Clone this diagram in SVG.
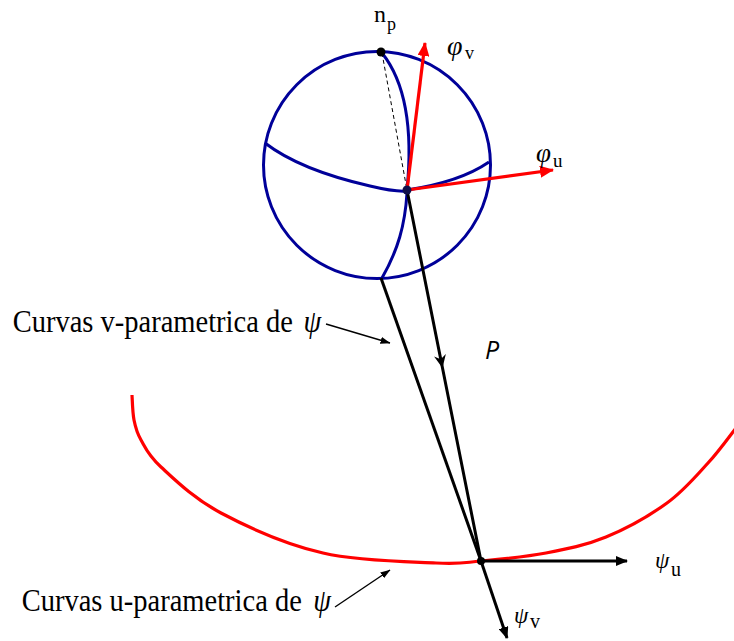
<svg xmlns="http://www.w3.org/2000/svg" width="734" height="641" viewBox="0 0 734 641">
  <style>
    .serif { font-family: "Liberation Serif", "Times New Roman", serif; fill: #000; }
    .it { font-style: italic; }
    .sphere { fill: none; stroke: #000099; stroke-width: 3; }
    .blk { fill: none; stroke: #000; stroke-width: 3; }
    .red { fill: none; stroke: #ff0000; stroke-width: 3.2; }
    .thin { fill: none; stroke: #000; stroke-width: 1.4; }
  </style>
  <defs>
    <marker id="headBlack" viewBox="0 0 12 10" refX="11" refY="5" markerWidth="12" markerHeight="10" markerUnits="userSpaceOnUse" orient="auto">
      <path d="M0,0 L12,5 L0,10 Z" fill="#000"/>
    </marker>
    <marker id="headRed" viewBox="0 0 14 12" refX="13" refY="6" markerWidth="14" markerHeight="12" markerUnits="userSpaceOnUse" orient="auto">
      <path d="M0,0 L14,6 L0,12 Z" fill="#ff0000"/>
    </marker>
    <marker id="headSmall" viewBox="0 0 10 7" refX="9.5" refY="3.5" markerWidth="10" markerHeight="7" markerUnits="userSpaceOnUse" orient="auto">
      <path d="M0,0 L10,3.5 L0,7 Z" fill="#000"/>
    </marker>
    <marker id="headMid" viewBox="0 0 14 12" refX="13" refY="6" markerWidth="14" markerHeight="12" markerUnits="userSpaceOnUse" orient="auto">
      <path d="M0,0 L13,6 L0,12 L4,6 Z" fill="#000"/>
    </marker>
  </defs>

  <!-- surface curve (u-parametric) -->
  <g id="surface-curve">
    <path class="red" d="M132,395 C132.3,399.2 132.5,412.5 134,420 C135.5,427.5 136.5,432.2 141,440 C145.5,447.8 147.7,454.8 161,467 C174.3,479.2 194,498.7 221,513 C248,527.3 287.2,544.7 323,553 C358.8,561.3 409.7,561.7 436,563 C462.3,564.3 462.7,562.7 481,561 C499.3,559.3 525.2,557 546,553 C566.8,549 585.8,545.3 606,537 C626.2,528.7 650,515.3 667,503 C684,490.7 696.5,475.5 708,463 C719.5,450.5 731.3,433.8 736,428"/>
  </g>

  <!-- unit sphere with its coordinate curves -->
  <g id="sphere">
    <circle class="sphere" cx="377" cy="165" r="113.5"/>
    <path class="sphere" d="M382,53 C402,78 414,120 407,190"/>
    <path class="sphere" d="M265,143 Q300,170 370,186 Q395,192 407,191"/>
    <path class="sphere" d="M407,190 Q460,182 489,162"/>
    <path class="sphere" d="M407,193 C405,225 398,250 382,278"/>
  </g>

  <!-- connectors -->
  <g id="connectors">
    <line x1="382" y1="53" x2="407" y2="190" stroke="#000" stroke-width="1" stroke-dasharray="4 3"/>
    <path class="blk" d="M381,278 L481,561"/>
    <path class="blk" d="M407,190 L442.5,368 L481,561" marker-mid="url(#headMid)"/>
    <line class="blk" x1="481" y1="561" x2="507" y2="638" marker-end="url(#headBlack)"/>
    <line class="blk" x1="481" y1="561" x2="627" y2="561" marker-end="url(#headBlack)"/>
    <line class="red" x1="407" y1="190" x2="425" y2="43" marker-end="url(#headRed)"/>
    <line class="red" x1="407" y1="190" x2="553" y2="170" marker-end="url(#headRed)"/>
    <line class="thin" x1="326" y1="324" x2="390" y2="343" marker-end="url(#headSmall)"/>
    <line class="thin" x1="335" y1="607" x2="390" y2="570" marker-end="url(#headSmall)"/>
  </g>

  <!-- points -->
  <g id="pole">
    <circle cx="381" cy="52" r="4.5" fill="#000"/>
    <text class="serif" x="374" y="22" font-size="24">n</text>
    <text class="serif" x="387" y="30" font-size="18">p</text>
  </g>
  <g id="sphere-point">
    <circle cx="407" cy="190" r="4.5" fill="#10104a"/>
  </g>
  <g id="surface-point">
    <circle cx="481" cy="561" r="4" fill="#000"/>
  </g>

  <!-- labels -->
  <g id="phi-v">
    <text class="serif it" x="447" y="55" font-size="28">φ</text>
    <text class="serif" x="465" y="59" font-size="18">v</text>
  </g>
  <g id="phi-u">
    <text class="serif it" x="536" y="162" font-size="27">φ</text>
    <text class="serif" x="553" y="167" font-size="19">u</text>
  </g>
  <g id="psi-u">
    <text class="serif it" x="655" y="568" font-size="23">ψ</text>
    <text class="serif" x="671" y="576" font-size="20">u</text>
  </g>
  <g id="psi-v">
    <text class="serif it" x="514" y="623" font-size="23">ψ</text>
    <text class="serif" x="530" y="628" font-size="20">v</text>
  </g>
  <g id="label-P">
    <text x="485" y="359" font-family="'Open Sans', 'DejaVu Sans', sans-serif" font-style="italic" font-size="25">P</text>
  </g>
  <g id="label-v-curves">
    <text class="serif" transform="translate(12.7,332) scale(0.92,1)" font-size="31">Curvas v-parametrica de <tspan class="it" x="316">ψ</tspan></text>
  </g>
  <g id="label-u-curves">
    <text class="serif" transform="translate(21.7,611) scale(0.92,1)" font-size="31">Curvas u-parametrica de <tspan class="it" x="317">ψ</tspan></text>
  </g>
</svg>
